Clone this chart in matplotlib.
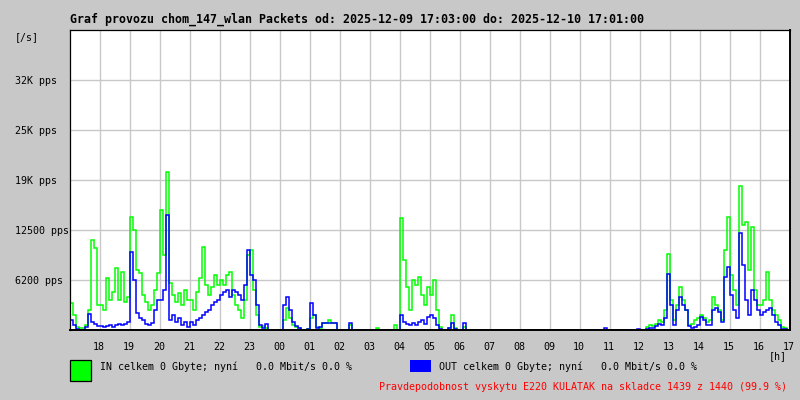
import numpy as np
import matplotlib
matplotlib.use("Agg")
import matplotlib.pyplot as plt
import matplotlib.transforms as mtransforms
from matplotlib.patches import Rectangle

# ---- data (6-minute samples from 17:00, packets per second) ----
in_pps = [
    # 17-18
    3400, 1900, 400, 200, 200, 600, 2500, 11200, 10300, 3100,
    # 18-19
    3100, 2500, 6500, 3800, 4800, 7800, 3800, 7300, 3500, 4100,
    # 19-20
    14100, 12500, 7500, 7100, 4400, 3500, 2500, 3100, 5000, 7100,
    # 20-21
    15000, 9400, 19800, 5900, 4400, 3500, 4600, 3100, 5000, 3800,
    # 21-22
    3800, 2500, 4800, 6500, 10400, 5600, 4400, 5400, 6900, 5600,
    # 22-23
    6300, 5600, 6900, 7300, 4400, 3100, 2500, 1500, 3800, 9400,
    # 23-00
    10000, 5000, 1900, 400, 500, 200, 0, 0, 0, 0,
    # 00-01
    0, 1200, 2800, 1500, 600, 400, 200, 0, 0, 100,
    # 01-02
    1500, 1900, 400, 200, 900, 900, 1200, 900, 900, 0,
    # 02-03
    0, 0, 0, 600, 0, 0, 0, 0, 0, 0,
    # 03-04
    0, 0, 200, 0, 0, 0, 0, 0, 600, 0,
    # 04-05
    14000, 8800, 5400, 2500, 6300, 5600, 6600, 4400, 3100, 5400,
    # 05-06
    4400, 6300, 2500, 400, 0, 0, 200, 1900, 200, 0,
    # 06-07
    0, 400, 0, 0, 0, 0, 0, 0, 0, 0,
    # 07-08
    0, 0, 0, 0, 0, 0, 0, 0, 0, 0,
    # 08-09
    0, 0, 0, 0, 0, 0, 0, 0, 0, 0,
    # 09-10
    0, 0, 0, 0, 0, 0, 0, 0, 0, 0,
    # 10-11
    0, 0, 0, 0, 0, 0, 0, 0, 0, 0,
    # 11-12
    0, 0, 0, 0, 0, 0, 0, 0, 0, 0,
    # 12-13
    0, 0, 400, 600, 500, 800, 1200, 1000, 2500, 9500,
    # 13-14
    3800, 1200, 3100, 5400, 3800, 2500, 600, 800, 1200, 1500,
    # 14-15
    1900, 1500, 1000, 1200, 4100, 3100, 2500, 1200, 10000, 14100,
    # 15-16
    6900, 5000, 3100, 18000, 13100, 13500, 7500, 12900, 5000, 3100,
    # 16-17
    3100, 3800, 7300, 3800, 2500, 1900, 1200, 400, 200, 0,
]

out_pps = [
    1200, 600, 100, 0, 0, 400, 2000, 1000, 700, 500,
    500, 400, 500, 600, 400, 600, 800, 600, 800, 1000,
    9800, 6300, 2100, 1500, 1200, 800, 600, 900, 2500, 3800,
    3800, 5000, 14400, 1200, 1900, 1000, 1500, 600, 1000, 400,
    1000, 600, 1200, 1500, 1900, 2200, 2500, 3100, 3500, 3800,
    4400, 4800, 5000, 4100, 5000, 4800, 4400, 3800, 5600, 10000,
    6900, 6300, 3100, 600, 200, 800, 0, 0, 0, 0,
    0, 3100, 4100, 2500, 1000, 500, 200, 0, 0, 100,
    3400, 1900, 200, 400, 900, 900, 900, 900, 900, 0,
    0, 0, 0, 900, 0, 0, 0, 0, 0, 0,
    0, 0, 0, 0, 0, 0, 0, 0, 0, 0,
    1900, 1000, 800, 600, 900, 600, 1000, 1200, 800, 1600,
    1900, 1500, 600, 100, 0, 0, 200, 900, 100, 0,
    0, 900, 0, 0, 0, 0, 0, 0, 0, 0,
    0, 0, 0, 0, 0, 0, 0, 0, 0, 0,
    0, 0, 0, 0, 0, 0, 0, 0, 0, 0,
    0, 0, 0, 0, 0, 0, 0, 0, 0, 0,
    0, 0, 0, 0, 0, 0, 0, 0, 200, 0,
    0, 0, 0, 0, 0, 0, 0, 0, 0, 100,
    0, 0, 100, 200, 200, 500, 800, 600, 1500, 7000,
    3100, 600, 2500, 4100, 3100, 2500, 500, 200, 400, 600,
    1600, 1200, 600, 600, 2500, 2800, 2200, 1000, 6600, 7900,
    4400, 2500, 1500, 12100, 8100, 3800, 1900, 5000, 3800, 2500,
    1900, 2200, 2500, 2800, 1900, 1000, 600, 100, 100, 0,
]

hour_labels = ["18", "19", "20", "21", "22", "23", "00", "01", "02", "03",
               "04", "05", "06", "07", "08", "09", "10", "11", "12", "13",
               "14", "15", "16", "17"]
ytick_values = [6250, 12500, 18750, 25000, 31250]
ytick_labels = ["6200 pps", "12500 pps", "19K pps", "25K pps", "32K pps"]
y_max = 37500

title = "Graf provozu chom_147_wlan Packets od: 2025-12-09 17:03:00 do: 2025-12-10 17:01:00"
legend_in = "IN celkem 0 Gbyte; nyní   0.0 Mbit/s 0.0 %"
legend_out = "OUT celkem 0 Gbyte; nyní   0.0 Mbit/s 0.0 %"
note = "Pravdepodobnost vyskytu E220 KULATAK na skladce 1439 z 1440 (99.9 %)"

# ---- figure ----
W, H = 800, 400
BG = "#c8c8c8"
GRID = "#c8c8c8"
fig = plt.figure(figsize=(W / 100, H / 100), dpi=100, facecolor=BG)

def fx(px):
    return px / W

def fy(py):
    return 1 - py / H

ax = fig.add_axes([fx(70), fy(330), fx(790) - fx(70), fy(30) - fy(330)])
ax.set_facecolor("white")
ax.set_xlim(0, 24)
ax.set_ylim(0, y_max)

n = len(in_pps)
edges = np.arange(n + 1) * (24.0 / n)

# grid
for h in range(1, 24):
    ax.axvline(h, color=GRID, lw=1.0, zorder=0)
for v in ytick_values:
    ax.axhline(v, color=GRID, lw=1.0, zorder=0)

ax.stairs(in_pps, edges, baseline=None, color="#00ff00", lw=1.1, zorder=2)
ax.stairs(out_pps, edges, baseline=None, color="#0000ff", lw=1.1, zorder=3)

ax.set_xticks([])
ax.set_yticks([])
for side in ["top", "left"]:
    ax.spines[side].set_linewidth(0.9)
for side in ["bottom", "right"]:
    ax.spines[side].set_linewidth(1.4)
for s in ax.spines.values():
    s.set_color("black")
    s.set_zorder(5)

mono = "DejaVu Sans Mono"
fs = 7.2

# title
fig.text(fx(70), fy(19), title, family=mono, weight="bold", fontsize=8.4,
         ha="left", va="center", color="black")

# y labels
ytr = mtransforms.blended_transform_factory(fig.transFigure, ax.transData)
for v, lab in zip(ytick_values, ytick_labels):
    ax.text(fx(15), v - 150, lab, transform=ytr, family=mono, fontsize=fs,
            ha="left", va="center", clip_on=False)
fig.text(fx(15), fy(37), "[/s]", family=mono, fontsize=fs, ha="left", va="center")

# x labels
xtr = mtransforms.blended_transform_factory(ax.transData, fig.transFigure)
for i, lab in enumerate(hour_labels):
    ax.text(i + 1 - 0.03, fy(347), lab, transform=xtr, family=mono, fontsize=fs,
            ha="center", va="center", clip_on=False)
fig.text(fx(778), fy(356), "[h]", family=mono, fontsize=fs, ha="center", va="center")

# legend
fig.patches.append(Rectangle((fx(70), fy(381)), fx(21), 21 / H, transform=fig.transFigure,
                             facecolor="#00ff00", edgecolor="black", lw=0.9))
fig.patches.append(Rectangle((fx(410), fy(372)), fx(21), 12 / H, transform=fig.transFigure,
                             facecolor="#0000ff", edgecolor="none"))
fig.text(fx(100), fy(367), legend_in, family=mono, fontsize=fs, ha="left", va="center")
fig.text(fx(439), fy(367), legend_out, family=mono, fontsize=fs, ha="left", va="center")
fig.text(fx(787), fy(387), note, family=mono, fontsize=fs, ha="right", va="center",
         color="#ff0000")

fig.savefig("out.png", dpi=100, facecolor=BG)
